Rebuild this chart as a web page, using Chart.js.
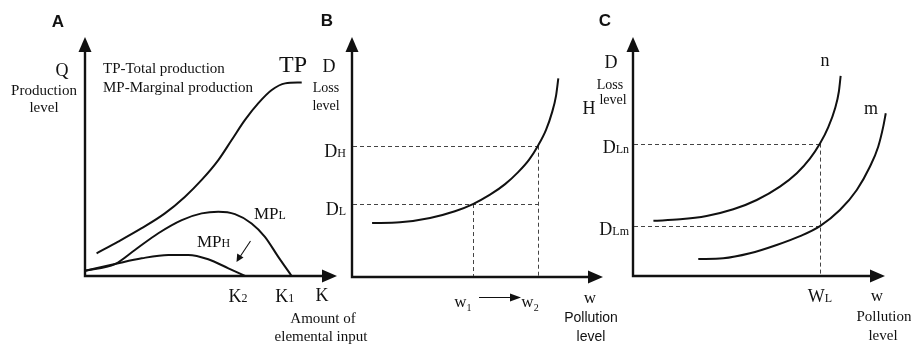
<!DOCTYPE html>
<html><head><meta charset="utf-8">
<script src="https://cdn.jsdelivr.net/npm/chart.js@4.4.1/dist/chart.umd.min.js"></script>
<style>
html,body{margin:0;padding:0;background:#fff;}
body{width:911px;height:344px;overflow:hidden;position:relative;}
canvas{position:absolute;left:0;top:0;}
</style></head>
<body>
<canvas id="cA" width="911" height="344"></canvas>
<canvas id="cB" width="911" height="344"></canvas>
<canvas id="cC" width="911" height="344"></canvas>
<script>
// ---------- DATA ----------
// Panel A: production curves (x = amount of elemental input, y = production level)
const tpX = [0.46, 1.32, 2.25, 3.17, 3.97, 4.63, 5.29, 5.82, 6.35, 6.88, 7.41, 7.94, 8.60];
const tpY = [0.95, 1.44, 2.00, 2.62, 3.32, 4.02, 4.85, 5.69, 6.53, 7.23, 7.78, 8.06, 8.10];
const mpLX = [0, 1.19, 1.98, 2.91, 3.84, 4.63, 5.29, 5.95, 6.61, 7.14, 7.67, 8.20];
const mpLY = [0.22, 0.50, 1.09, 1.79, 2.34, 2.62, 2.69, 2.59, 2.20, 1.64, 0.80, 0];
const mpHX = [0, 1.19, 2.25, 3.31, 4.10, 4.89, 5.69, 6.35];
const mpHY = [0.22, 0.50, 0.74, 0.88, 0.88, 0.70, 0.32, 0];
const kTickLabels = ['K', 'K'];
const kTickSubs = ['2', '1'];
const kTickValues = [6.35, 8.20];

// Panel B: loss vs pollution
const bX = [0.80, 1.91, 3.11, 4.10, 4.82, 5.50, 6.10, 6.61, 7.05, 7.41, 7.73, 7.97, 8.13, 8.22];
const bY = [2.25, 2.28, 2.46, 2.74, 3.04, 3.43, 3.87, 4.36, 4.88, 5.47, 6.13, 6.86, 7.56, 8.28];
const bLevelSubs = ['L', 'H'];
const bLevelValues = [3.04, 5.47];
const wSubs = ['1', '2'];
const wValues = [4.82, 7.41];

// Panel C: two loss curves n and m
const nX = [0.81, 1.87, 2.92, 3.98, 4.91, 5.83, 6.50, 7.02, 7.42, 7.75, 8.02, 8.17, 8.24];
const nY = [2.31, 2.37, 2.51, 2.79, 3.18, 3.74, 4.30, 4.91, 5.54, 6.23, 7.02, 7.72, 8.37];
const mX = [2.59, 3.58, 4.64, 5.70, 6.63, 7.42, 8.21, 8.88, 9.40, 9.73, 9.93, 10.03];
const mY = [0.71, 0.74, 0.95, 1.30, 1.67, 2.09, 2.76, 3.60, 4.57, 5.41, 6.25, 6.81];
const cLevelSubs = ['Lm', 'Ln'];
const cLevelValues = [2.09, 5.54];
const wLValue = 7.42;

// ---------- HELPERS ----------
const SERIF = '"Liberation Serif","Times New Roman",serif';
const SANS = '"Liberation Sans",Arial,sans-serif';
const INK = '#111';

function pts(xs, ys){ return xs.map((x,i)=>({x:x, y:ys[i]})); }
function ds(xs, ys){
  return {data: pts(xs, ys), showLine: true, borderColor: INK, borderWidth: 2,
          cubicInterpolationMode: 'monotone', tension: 0.4,
          pointRadius: 0, clip: false, fill: false};
}
function txt(ctx, s, x, y, font, align){
  ctx.font = font; ctx.fillStyle = INK;
  ctx.textAlign = align || 'center'; ctx.textBaseline = 'middle';
  ctx.fillText(s, x, y);
}
// main text with subscript; y = vertical centre of main text
function subTxt(ctx, main, sub, x, y, size, subSize, drop, align, fam){
  fam = fam || SERIF;
  ctx.fillStyle = INK; ctx.textBaseline = 'alphabetic'; ctx.textAlign = 'left';
  ctx.font = size + 'px ' + fam;
  const w1 = ctx.measureText(main).width;
  ctx.font = subSize + 'px ' + fam;
  const w2 = ctx.measureText(sub).width;
  const tot = w1 + w2;
  let x0 = x;
  if (align === 'center') x0 = x - tot/2;
  else if (align === 'right') x0 = x - tot;
  const base = y + size*0.34;
  ctx.font = size + 'px ' + fam;
  ctx.fillText(main, x0, base);
  ctx.font = subSize + 'px ' + fam;
  ctx.fillText(sub, x0 + w1, base + drop);
}
function axes(ctx, sx, sy, xmax, ymax){
  const ox = sx.getPixelForValue(0), oy = sy.getPixelForValue(0);
  const tx = sx.getPixelForValue(xmax), ty = sy.getPixelForValue(ymax);
  const L = 14, H = 6.5;
  ctx.save();
  ctx.strokeStyle = INK; ctx.lineWidth = 2.4; ctx.lineJoin = 'miter';
  ctx.beginPath();
  ctx.moveTo(ox, ty + L); ctx.lineTo(ox, oy); ctx.lineTo(tx - L, oy);
  ctx.stroke();
  ctx.fillStyle = INK;
  ctx.beginPath(); ctx.moveTo(ox, ty); ctx.lineTo(ox - H, ty + L + 1); ctx.lineTo(ox + H, ty + L + 1); ctx.closePath(); ctx.fill();
  ctx.beginPath(); ctx.moveTo(tx, oy); ctx.lineTo(tx - L - 1, oy - H); ctx.lineTo(tx - L - 1, oy + H); ctx.closePath(); ctx.fill();
  ctx.restore();
}
function dashH(ctx, sx, sy, yv, x2v){
  ctx.save(); ctx.strokeStyle = '#444'; ctx.lineWidth = 1; ctx.setLineDash([4,3]);
  ctx.beginPath();
  ctx.moveTo(sx.getPixelForValue(0) + 1, Math.round(sy.getPixelForValue(yv)) + 0.5);
  ctx.lineTo(sx.getPixelForValue(x2v), Math.round(sy.getPixelForValue(yv)) + 0.5);
  ctx.stroke(); ctx.restore();
}
function dashV(ctx, sx, sy, xv, y2v){
  ctx.save(); ctx.strokeStyle = '#444'; ctx.lineWidth = 1; ctx.setLineDash([4,3]);
  ctx.beginPath();
  ctx.moveTo(Math.round(sx.getPixelForValue(xv)) + 0.5, sy.getPixelForValue(y2v));
  ctx.lineTo(Math.round(sx.getPixelForValue(xv)) + 0.5, sy.getPixelForValue(0) - 1);
  ctx.stroke(); ctx.restore();
}

function makeChart(id, pad, datasets, drawBack, drawFront){
  return new Chart(document.getElementById(id), {
    type: 'scatter',
    data: {datasets: datasets},
    options: {
      responsive: false, animation: false, devicePixelRatio: 1,
      layout: {padding: pad},
      plugins: {legend: {display: false}, tooltip: {enabled: false}},
      events: [],
      scales: {
        x: {type: 'linear', min: 0, max: 10, display: false},
        y: {type: 'linear', min: 0, max: 10, display: false}
      }
    },
    plugins: [{
      id: 'deco_' + id,
      beforeDatasetsDraw(chart){ drawBack(chart.ctx, chart.scales.x, chart.scales.y); },
      afterDatasetsDraw(chart){ drawFront(chart.ctx, chart.scales.x, chart.scales.y); }
    }]
  });
}

// ---------- PANEL A ----------
makeChart('cA', {left: 85, top: 37, right: 911 - 337, bottom: 344 - 276},
  [ds(tpX, tpY), ds(mpLX, mpLY), ds(mpHX, mpHY)],
  (ctx, sx, sy) => { axes(ctx, sx, sy, 10, 10); },
  (ctx, sx, sy) => {
    txt(ctx, 'A', 58, 22, 'bold 17px ' + SANS);
    txt(ctx, 'Q', 62, 71, '18px ' + SERIF);
    txt(ctx, 'Production', 44, 91, '15px ' + SERIF);
    txt(ctx, 'level', 44, 108, '15px ' + SERIF);
    txt(ctx, 'TP-Total production', 103, 69, '15px ' + SERIF, 'left');
    txt(ctx, 'MP-Marginal production', 103, 88, '15px ' + SERIF, 'left');
    txt(ctx, 'TP', 293, 66, '24px ' + SERIF);
    subTxt(ctx, 'MP', 'L', 254, 213, 17, 12, 0, 'left');
    subTxt(ctx, 'MP', 'H', 197, 241, 17, 12, 0, 'left');
    // small arrow pointing from MP_L toward MP_H
    ctx.save(); ctx.strokeStyle = INK; ctx.fillStyle = INK; ctx.lineWidth = 1.1;
    ctx.beginPath(); ctx.moveTo(250.5, 241); ctx.lineTo(240.5, 256); ctx.stroke();
    ctx.beginPath(); ctx.moveTo(236.5, 262); ctx.lineTo(237.2, 253.5); ctx.lineTo(243.5, 257.5); ctx.closePath(); ctx.fill();
    ctx.restore();
    kTickValues.forEach((v, i) => {
      subTxt(ctx, kTickLabels[i], kTickSubs[i], sx.getPixelForValue(v) - 7, 296, 18, 12, 0, 'center');
    });
    txt(ctx, 'K', 322, 296, '18px ' + SERIF);
    txt(ctx, 'Amount of', 323, 319, '15px ' + SERIF);
    txt(ctx, 'elemental input', 321, 337, '15px ' + SERIF);
  });

// ---------- PANEL B ----------
makeChart('cB', {left: 352, top: 37, right: 911 - 603, bottom: 344 - 277},
  [ds(bX, bY)],
  (ctx, sx, sy) => {
    axes(ctx, sx, sy, 10, 10);
    dashH(ctx, sx, sy, bLevelValues[0], wValues[1]);
    dashH(ctx, sx, sy, bLevelValues[1], wValues[1]);
    dashV(ctx, sx, sy, wValues[0], bLevelValues[0]);
    dashV(ctx, sx, sy, wValues[1], bLevelValues[1]);
  },
  (ctx, sx, sy) => {
    txt(ctx, 'B', 327, 21, 'bold 17px ' + SANS);
    txt(ctx, 'D', 329, 67, '18px ' + SERIF);
    txt(ctx, 'Loss', 326, 88, '14px ' + SERIF);
    txt(ctx, 'level', 326, 106, '14px ' + SERIF);
    bLevelValues.forEach((v, i) => {
      subTxt(ctx, 'D', bLevelSubs[i], 346, sy.getPixelForValue(v) + 5, 18, 12, 0, 'right');
    });
    wValues.forEach((v, i) => {
      subTxt(ctx, 'w', wSubs[i], sx.getPixelForValue(v) - 10 + i * 2, 301, 17, 10, 4, 'center');
    });
    // arrow w1 -> w2
    ctx.save(); ctx.strokeStyle = INK; ctx.fillStyle = INK; ctx.lineWidth = 1.2;
    ctx.beginPath(); ctx.moveTo(479, 297.5); ctx.lineTo(512, 297.5); ctx.stroke();
    ctx.beginPath(); ctx.moveTo(521, 297.5); ctx.lineTo(510, 293.5); ctx.lineTo(510, 301.5); ctx.closePath(); ctx.fill();
    ctx.restore();
    txt(ctx, 'w', 590, 299, '17px ' + SERIF);
    txt(ctx, 'Pollution', 591, 318, '14px ' + SANS);
    txt(ctx, 'level', 591, 337, '14px ' + SANS);
  });

// ---------- PANEL C ----------
makeChart('cC', {left: 633, top: 37, right: 911 - 885, bottom: 344 - 276},
  [ds(nX, nY), ds(mX, mY)],
  (ctx, sx, sy) => {
    axes(ctx, sx, sy, 10, 10);
    dashH(ctx, sx, sy, cLevelValues[0], wLValue);
    dashH(ctx, sx, sy, cLevelValues[1], wLValue);
    dashV(ctx, sx, sy, wLValue, cLevelValues[1]);
  },
  (ctx, sx, sy) => {
    txt(ctx, 'C', 605, 21, 'bold 17px ' + SANS);
    txt(ctx, 'D', 611, 63, '18px ' + SERIF);
    txt(ctx, 'Loss', 610, 85, '14px ' + SERIF);
    txt(ctx, 'level', 613, 100, '14px ' + SERIF);
    txt(ctx, 'H', 589, 109, '18px ' + SERIF);
    cLevelValues.forEach((v, i) => {
      subTxt(ctx, 'D', cLevelSubs[i], 629, sy.getPixelForValue(v) + 3, 18, 12, 0, 'right');
    });
    subTxt(ctx, 'W', 'L', sx.getPixelForValue(wLValue), 296, 18, 12, 0, 'center');
    txt(ctx, 'n', 825, 61, '18px ' + SERIF);
    txt(ctx, 'm', 871, 109, '18px ' + SERIF);
    txt(ctx, 'w', 877, 297, '17px ' + SERIF);
    txt(ctx, 'Pollution', 884, 317, '15px ' + SERIF);
    txt(ctx, 'level', 883, 336, '15px ' + SERIF);
  });
</script>
</body></html>
